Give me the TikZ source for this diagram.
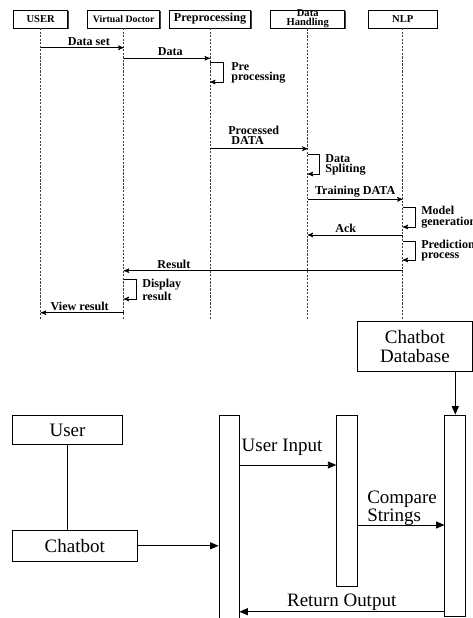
\documentclass[tikz,border=0pt]{standalone}
\usepackage{fontspec}
\setmainfont{Liberation Serif}
\usetikzlibrary{arrows}
\usetikzlibrary{arrows.meta}
\usetikzlibrary{shadows}

\begin{document}
\begin{tikzpicture}[x=0.025cm,y=-0.025cm,
    head/.style={draw,fill=white,inner sep=0pt,minimum height=0.45cm,align=center,
      font=\fontsize{7.5}{6.5}\selectfont\bfseries,
      drop shadow={shadow xshift=0.8pt,shadow yshift=-0.8pt,fill=black!75,opacity=1}},
    life/.style={dash pattern=on 1.5pt off 1pt,line width=0.4pt,black!75},
    msg/.style={->,>=stealth',line width=0.5pt},
    lbl/.style={font=\fontsize{8.6}{7.4}\selectfont\bfseries,inner sep=0pt,align=left},
    box/.style={draw,line width=0.6pt,inner sep=0pt,align=center,font=\fontsize{13.5}{13.5}\selectfont},
    bar/.style={draw,line width=0.6pt,inner sep=0pt},
    tip/.style={-{Triangle[length=6pt,width=5pt]},line width=0.6pt},
    txt/.style={inner sep=0pt,align=left,font=\fontsize{13.5}{11.5}\selectfont}]
  \useasboundingbox (0,0) rectangle (473,618);

  % heads of the life lines
  \node[head,minimum width=1.35cm] (user) at (40.7,19) {USER};
  \node[head,minimum width=1.8cm,font=\fontsize{7}{6.5}\selectfont\bfseries] (vd) at (123.7,19) {Virtual Doctor};
  \node[head,minimum width=2.025cm,font=\fontsize{8.6}{6.5}\selectfont\bfseries] (pre) at (210,19) {Preprocessing};
  \node[head,minimum width=1.85cm] (dh) at (307.7,19) {Data\\Handling};
  \node[head,minimum width=1.725cm] (nlp) at (402.7,19) {NLP};
  \foreach \n in {user,vd,pre,dh,nlp}{
    \draw[life] (\n.south) -- (\n.south |- 0,320);
  }

  % messages
  \draw[msg] (user |- 0,47.7) -- (vd |- 0,47.7) node[lbl,pos=0.58,above=1.5pt] (m1) {Data set};
  \draw[msg] (vd |- 0,58.3) -- (pre |- 0,58.3) node[lbl,pos=0.54,above=1.5pt] (m2) {Data};
  \draw[msg] (pre |- 0,62) -- ++(13,0) |- (pre |- 0,82);
  \node[lbl,anchor=west] (s1) at (231,73) {Pre\\processing};
  \draw[msg] (pre |- 0,148.7) -- (dh |- 0,148.7);
  \node[lbl,anchor=south west] (m3) at (228,145) {Processed\\\ DATA};
  \draw[msg] (dh |- 0,154) -- ++(12,0) |- (dh |- 0,174);
  \node[lbl,anchor=west] (s2) at (325,165) {Data\\Spliting};
  \draw[msg] (dh |- 0,199.3) -- (nlp |- 0,199.3) node[lbl,midway,above=1.5pt] (m4) {Training DATA};
  \draw[msg] (nlp |- 0,207) -- ++(13,0) |- (nlp |- 0,227);
  \node[lbl,anchor=west] (s3) at (421,217) {Model\\generation};
  \draw[msg] (nlp |- 0,235) -- (dh |- 0,235) node[lbl,pos=0.6,above=1.5pt] (m5) {Ack};
  \draw[msg] (nlp |- 0,241) -- ++(13,0) |- (nlp |- 0,260);
  \node[lbl,anchor=west] (s4) at (421,250.5) {Prediction\\process};
  \draw[msg] (nlp |- 0,270.7) -- (vd |- 0,270.7) node[lbl,pos=0.82,above=1.5pt] (m6) {Result};
  \draw[msg] (vd |- 0,279) -- ++(13,0) |- (vd |- 0,299);
  \node[lbl,anchor=west] (s5) at (142,290) {Display\\result};
  \draw[msg] (vd |- 0,312.7) -- (user |- 0,312.7) node[lbl,pos=0.53,above=1.5pt] (m7) {View result};

  % chatbot part
  \node[box,minimum width=2.89cm,minimum height=1.25cm] (db) at (414.9,346.7) {Chatbot\\Database};
  \node[box,minimum width=2.76cm,minimum height=0.71cm] (usr) at (67.5,430) {User};
  \node[box,minimum width=3.125cm,minimum height=0.79cm] (bot) at (74.8,545.8) {Chatbot};
  \node[bar,minimum width=0.5cm,minimum height=5.25cm] (bar1) at (229,520) {};
  \node[bar,minimum width=0.525cm,minimum height=4.29cm] (bar2) at (347.2,500.8) {};
  \node[bar,minimum width=0.52cm,minimum height=5.025cm] (bar3) at (455.3,515.5) {};

  \draw[line width=0.6pt] (usr.south) -- (usr.south |- bot.north);
  \draw[tip] (bot.east) -- (bot.east -| bar1.west);
  \draw[tip] (db.south -| bar3.north) -- (bar3.north);
  \draw[tip] (bar1.east |- 0,465) -- (bar2.west |- 0,465);
  \node[txt] (t1) at (282,447.7) {User Input};
  \draw[tip] (bar2.east |- 0,525) -- (bar3.west |- 0,525);
  \node[txt,anchor=west] (t2) at (367,508) {Compare\\Strings};
  \draw[tip] (bar3.west |- 0,611.7) -- (bar1.east |- 0,611.7);
  \node[txt] (t3) at (341.7,602.7) {Return Output};
\end{tikzpicture}
\end{document}
